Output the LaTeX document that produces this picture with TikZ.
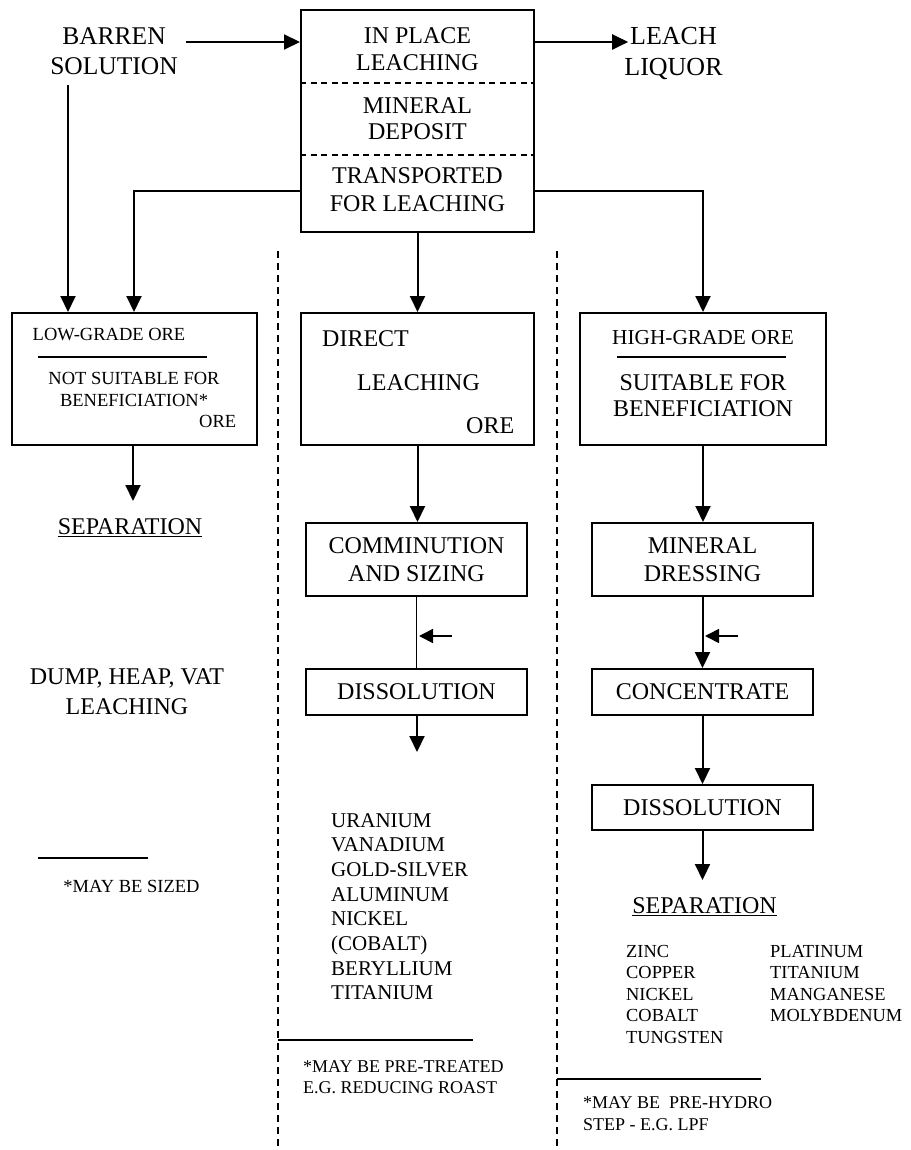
\documentclass[tikz,border=0pt]{standalone}
\usepackage{fontspec}
\setmainfont{Liberation Serif}
\usetikzlibrary{arrows.meta}

\newcommand\fsz[2]{\fontsize{#1}{#2}\selectfont}

\tikzset{
  box/.style={draw, line width=2pt, inner sep=0pt, align=center,
    font=\fsz{24}{28}},
  arr/.style={line width=2pt, -{Triangle[length=16pt,width=15pt]}},
  feed/.style={line width=1.7pt, -{Triangle[length=14pt,width=14pt]}},
  flow/.style={line width=1.5pt},
  rule/.style={line width=1.5pt},
  zone/.style={line width=1.4pt, dash pattern=on 7pt off 5pt},
  split/.style={line width=1.5pt, dash pattern=on 6pt off 4.5pt},
  lbl/.style={inner sep=0pt, anchor=north, align=center},
  lst/.style={inner sep=0pt, anchor=north west, align=left},
}

\begin{document}
\begin{tikzpicture}[x=1pt,y=-1pt]
  \useasboundingbox (0,0) rectangle (910,1150);

  % top row
  \node[lbl, font=\fsz{25.5}{30}] (barren) at (114,27) {BARREN\\SOLUTION};
  \node[lbl, font=\fsz{26}{31}] (leach) at (673.5,27) {LEACH\\LIQUOR};
  \node[box, minimum width=233, minimum height=222] (deposit) at (417.5,121) {};
  \draw[split] (deposit.west |- 0,83) -- (deposit.east |- 0,83);
  \draw[split] (deposit.west |- 0,155) -- (deposit.east |- 0,155);
  \node[lbl, font=\fsz{24}{27}] (inplace) at (417.5,27) {IN PLACE\\LEACHING};
  \node[lbl, font=\fsz{24}{26}] (mindep) at (417.5,97) {MINERAL\\DEPOSIT};
  \node[lbl, font=\fsz{24}{28}] (transp) at (417.5,167) {TRANSPORTED\\FOR LEACHING};

  \coordinate (bfeed) at (186,42);
  \coordinate (bdrop) at (68,85);
  \draw[arr] (bfeed) -- (bfeed -| deposit.west);
  \draw[arr] (bfeed -| deposit.east) -- ([xshift=4pt]bfeed -| leach.west);

  % zone dividers
  \draw[zone] (278,251) -- (278,1150);
  \draw[zone] (557,251) -- (557,1150);

  % ore boxes
  \node[box, minimum width=245, minimum height=132] (low) at (134.5,379) {};
  \node[box, minimum width=233, minimum height=132] (direct) at (417.5,379) {};
  \node[box, minimum width=246, minimum height=132] (high) at (703,379) {};

  \draw[arr] (bdrop) -- (bdrop |- low.north);
  \draw[arr] ([yshift=-70pt]deposit.west) -| ([xshift=123pt]low.north west);
  \draw[arr] (deposit.south) -- (direct.north);
  \draw[arr] ([yshift=-70pt]deposit.east) -| (high.north);

  % low-grade column
  \node[lbl, font=\fsz{18.5}{22}] (lowtitle) at (109,328) {LOW-GRADE ORE};
  \draw[rule] (38,357) -- (207,357);
  \node[lbl, font=\fsz{18.5}{22}] (lownote) at (134,372) {NOT SUITABLE FOR\\BENEFICIATION*};
  \node[lst, font=\fsz{18.5}{22}] (lowore) at (199,415) {ORE};
  \coordinate (lowsep) at (133,501);
  \draw[arr] (low.south -| lowsep) -- (lowsep);
  \node[lbl, font=\fsz{24}{28}] (sepl) at (130,518) {SEPARATION};
  \draw[rule] ([yshift=-2pt]sepl.south west) -- ([yshift=-2pt]sepl.south east);
  \node[lbl, font=\fsz{24}{30}] (dump) at (127,668) {DUMP, HEAP, VAT\\LEACHING};
  \draw[rule] (38,858) -- (148,858);
  \node[lbl, font=\fsz{18.5}{22}] (sized) at (131.5,880) {*MAY BE SIZED};

  % direct leaching column
  \node[lst, font=\fsz{24}{28}] (dirt) at (322,330) {DIRECT};
  \node[lst, font=\fsz{24}{28}] (dirl) at (357,374) {LEACHING};
  \node[lst, font=\fsz{24}{28}] (diro) at (466,417) {ORE};
  \node[box, minimum width=221, minimum height=73] (commin) at (416.5,559.5) {COMMINUTION\\AND SIZING};
  \node[box, minimum width=221, minimum height=46] (dissa) at (416.5,692) {DISSOLUTION};
  \draw[arr] (direct.south) -- (direct.south |- commin.north);
  \draw[flow] (dissa.north |- commin.south) -- (dissa.north);
  \coordinate (adda) at (452,636);
  \draw[feed] (adda) -- (419,636);
  \coordinate (outa) at (417,752);
  \draw[arr] (dissa.south -| outa) -- (outa);
  \node[lst, font=\fsz{21}{24.7}] (metalsa) at (331,813)
    {URANIUM\\VANADIUM\\GOLD-SILVER\\ALUMINUM\\NICKEL\\(COBALT)\\BERYLLIUM\\TITANIUM};
  \draw[rule] (278,1040) -- (473,1040);
  \node[lst, font=\fsz{18}{21.5}] (pretreat) at (303,1060)
    {*MAY BE PRE-TREATED\\E.G. REDUCING ROAST};

  % high-grade column
  \node[lbl, font=\fsz{21.3}{26}] (hightitle) at (703,330) {HIGH-GRADE ORE};
  \draw[rule] (617,357) -- (786,357);
  \node[lbl, font=\fsz{24}{26}] (highnote) at (703,374) {SUITABLE FOR\\BENEFICIATION};
  \node[box, minimum width=221, minimum height=73] (dress) at (702.5,559.5) {MINERAL\\DRESSING};
  \node[box, minimum width=221, minimum height=46] (conc) at (702.5,692) {CONCENTRATE};
  \node[box, minimum width=221, minimum height=45] (dissb) at (702.5,807.5) {DISSOLUTION};
  \draw[arr] (high.south) -- (high.south |- dress.north);
  \draw[arr] (dress.south) -- (conc.north);
  \coordinate (addb) at (738,636);
  \draw[feed] (addb) -- (705,636);
  \draw[arr] (conc.south) -- (dissb.north);
  \coordinate (outb) at (702.5,880);
  \draw[arr] (dissb.south) -- (outb);
  \node[lbl, font=\fsz{24}{28}] (sepr) at (704.5,897) {SEPARATION};
  \draw[rule] ([yshift=-2pt]sepr.south west) -- ([yshift=-2pt]sepr.south east);
  \node[lst, font=\fsz{18.4}{21.5}] (metalsb) at (626,945)
    {ZINC\\COPPER\\NICKEL\\COBALT\\TUNGSTEN};
  \node[lst, font=\fsz{18.4}{21.5}] (metalsc) at (770,945)
    {PLATINUM\\TITANIUM\\MANGANESE\\MOLYBDENUM};
  \draw[rule] (557,1079) -- (761,1079);
  \node[lst, font=\fsz{18}{22}] (prehydro) at (583,1096)
    {*MAY BE~ PRE-HYDRO\\STEP - E.G. LPF};
\end{tikzpicture}
\end{document}
